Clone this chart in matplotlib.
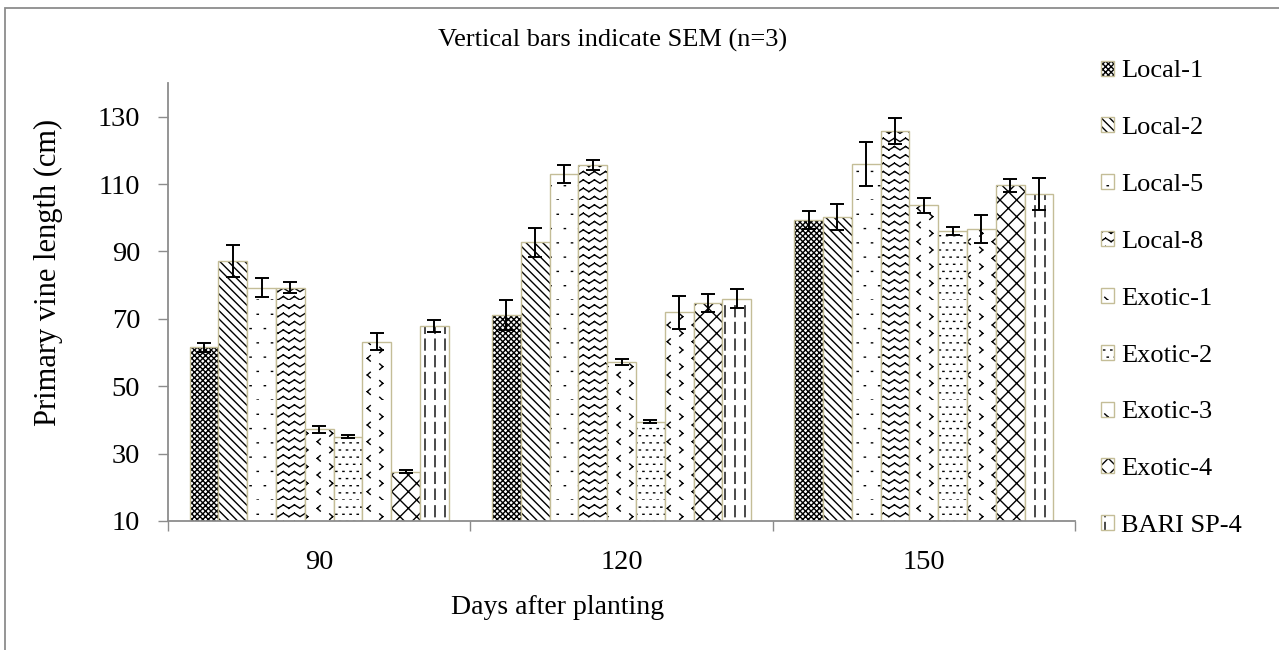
import warnings
import numpy as np
import matplotlib
matplotlib.use('Agg')
import matplotlib.pyplot as plt
import matplotlib.hatch as mhatch
from matplotlib.path import Path
from matplotlib.patches import Rectangle
from matplotlib.legend_handler import HandlerTuple

warnings.filterwarnings('ignore')

# data, days after planting
days = ['90', '120', '150']
genotypes = ['Local-1', 'Local-2', 'Local-5', 'Local-8', 'Exotic-1',
             'Exotic-2', 'Exotic-3', 'Exotic-4', 'BARI SP-4']

local_1 = [61.5, 71.1, 99.4]
local_2 = [87.1, 92.7, 100.3]
local_5 = [79.3, 112.9, 116.0]
local_8 = [79.3, 115.6, 125.7]
exotic_1 = [37.2, 57.2, 103.7]
exotic_2 = [35.0, 39.5, 96.2]
exotic_3 = [63.2, 72.0, 96.6]
exotic_4 = [24.6, 74.7, 109.6]
bari_sp4 = [67.9, 76.0, 107.0]

sem_local_1 = [1.3, 4.5, 2.7]
sem_local_2 = [4.8, 4.2, 3.9]
sem_local_5 = [2.9, 2.7, 6.6]
sem_local_8 = [1.6, 1.5, 3.8]
sem_exotic_1 = [1.0, 0.9, 2.2]
sem_exotic_2 = [0.5, 0.5, 1.2]
sem_exotic_3 = [2.5, 4.9, 4.2]
sem_exotic_4 = [0.4, 2.8, 1.9]
sem_bari_sp4 = [1.7, 2.9, 4.7]

means = [local_1, local_2, local_5, local_8, exotic_1, exotic_2, exotic_3, exotic_4, bari_sp4]
sems = [sem_local_1, sem_local_2, sem_local_5, sem_local_8, sem_exotic_1,
        sem_exotic_2, sem_exotic_3, sem_exotic_4, sem_bari_sp4]


# a few extra hatch patterns that matplotlib doesn't have (excel-like).
# agg fills hatch paths too, so everything is made of separate 2-point segments
class WaveHatch(mhatch.HatchPatternBase):
    def __init__(self, hatch, density):
        self.num_rows = int(hatch.count('~') * density)
        self.nseg = 18
        self.num_vertices = self.num_rows * self.nseg * 2

    def set_vertices_and_codes(self, vertices, codes):
        amp = 0.035
        i = 0
        for r in range(self.num_rows):
            y = r / self.num_rows
            for s in range(self.nseg):
                x0 = s / self.nseg
                x1 = (s + 1) / self.nseg
                y0 = y + amp * (s % 2)
                y1 = y + amp * ((s + 1) % 2)
                vertices[i:i+2] = [(x0, y0), (x1, y1)]
                codes[i:i+2] = [Path.MOVETO, Path.LINETO]
                i += 2


class ChevronHatch(mhatch.HatchPatternBase):
    def __init__(self, hatch, density):
        self.num_rows = int(hatch.count('>') * density)
        self.num_cols = 8
        self.num_vertices = self.num_rows * self.num_cols * 4

    def set_vertices_and_codes(self, vertices, codes):
        w, h = 0.03, 0.055
        i = 0
        for r in range(self.num_rows):
            for c in range(self.num_cols):
                y = (r + 0.5 * (c % 2)) / self.num_rows
                x = (c + 0.5) / self.num_cols
                s = 1 if c % 2 == 0 else -1
                tip = (x + s*w/2, y)
                vertices[i:i+4] = [(x - s*w/2, y + h/2), tip, (x - s*w/2, y - h/2), tip]
                codes[i:i+4] = [Path.MOVETO, Path.LINETO, Path.MOVETO, Path.LINETO]
                i += 4


class DashHatch(mhatch.HatchPatternBase):
    def __init__(self, hatch, density):
        self.num_cols = hatch.count(':') * 10
        self.num_seg = 6
        self.num_vertices = self.num_cols * self.num_seg * 2

    def set_vertices_and_codes(self, vertices, codes):
        i = 0
        for c in range(self.num_cols):
            x = (c + 0.5) / self.num_cols
            for s in range(self.num_seg):
                y0 = s / self.num_seg
                vertices[i:i+2] = [(x, y0), (x, y0 + 0.65 / self.num_seg)]
                codes[i:i+2] = [Path.MOVETO, Path.LINETO]
                i += 2


class DotHatch(mhatch.HatchPatternBase):
    # tiny square dots on a staggered grid
    def __init__(self, hatch, density):
        self.n = hatch.count(',') * 7
        self.num_vertices = self.n * self.n * 2

    def set_vertices_and_codes(self, vertices, codes):
        i = 0
        for r in range(self.n):
            for c in range(self.n):
                x = (c + 0.5 * (r % 2)) / self.n
                y = r / self.n
                vertices[i:i+2] = [(x, y), (x + 0.012, y)]
                codes[i:i+2] = [Path.MOVETO, Path.LINETO]
                i += 2


mhatch._hatch_types.extend([WaveHatch, ChevronHatch, DashHatch, DotHatch])

hatches = ['xxxxxx', '\\\\\\\\', ',', '~~', '>', ',,', '>', 'xx', ':']

plt.rcParams['font.family'] = ['Liberation Serif', 'DejaVu Serif']
plt.rcParams['hatch.linewidth'] = 1.0

fig = plt.figure(figsize=(12.79, 6.5), dpi=100)
ax = fig.add_axes([0.1314, 0.1985, 0.7091, 0.6738])

x = np.arange(len(days))
w = 1 / 10.5
edge = '#c4bd97'
handles = []
for j, (vals, errs, h) in enumerate(zip(means, sems, hatches)):
    pos = x + (j - 4) * w
    hb = ax.bar(pos, vals, w, color='white', edgecolor='black', linewidth=0, hatch=h)
    eb = ax.bar(pos, vals, w, fill=False, edgecolor=edge, linewidth=1.0)
    ax.errorbar(pos, vals, yerr=errs, fmt='none', ecolor='black',
                elinewidth=1.4, capsize=5, capthick=1.4)
    handles.append((hb[0], eb[0]))

ax.set_xlim(-0.5, 2.5)
ax.set_ylim(10, 140)
ax.set_yticks(range(10, 131, 20))
ax.set_xticks(x)
ax.set_xticklabels(days)
ax.set_xticks([-0.5, 0.5, 1.5, 2.5], minor=True)

for s in ['top', 'right']:
    ax.spines[s].set_visible(False)
for s in ['left', 'bottom']:
    ax.spines[s].set_color('#8c8c8c')
    ax.spines[s].set_linewidth(1.3)

ax.tick_params(axis='y', length=7, width=1, color='#8c8c8c', labelsize=20.5, pad=13)
ax.tick_params(axis='x', which='major', length=0, labelsize=20.5, pad=21)
ax.tick_params(axis='x', which='minor', length=7, width=1, color='#8c8c8c')

fig.text(48 / 1279, 1 - 272 / 650, 'Primary vine length (cm)', rotation=90,
         ha='center', va='center', fontsize=22)
fig.text(558 / 1279, 1 - 608 / 650, 'Days after planting',
         ha='center', va='center', fontsize=20)
fig.text(613 / 1279, 1 - 40 / 650, 'Vertical bars indicate SEM (n=3)',
         ha='center', va='center', fontsize=19)

fig.legend(handles, genotypes, loc='upper left', bbox_to_anchor=(1101 / 1279, 0.907),
           frameon=False, fontsize=19, handlelength=0.5, handleheight=0.5,
           handletextpad=0.25, labelspacing=1.32, borderpad=0, borderaxespad=0,
           handler_map={tuple: HandlerTuple(ndivide=1)})

# chart area border (only left/top show in the original)
fig.patches.append(Rectangle((5 / 1279, -0.05), 1.1, 1.05 - 8 / 650, transform=fig.transFigure,
                             fill=False, edgecolor='#8c8c8c', linewidth=1.3))

fig.savefig('out.png', dpi=100)
